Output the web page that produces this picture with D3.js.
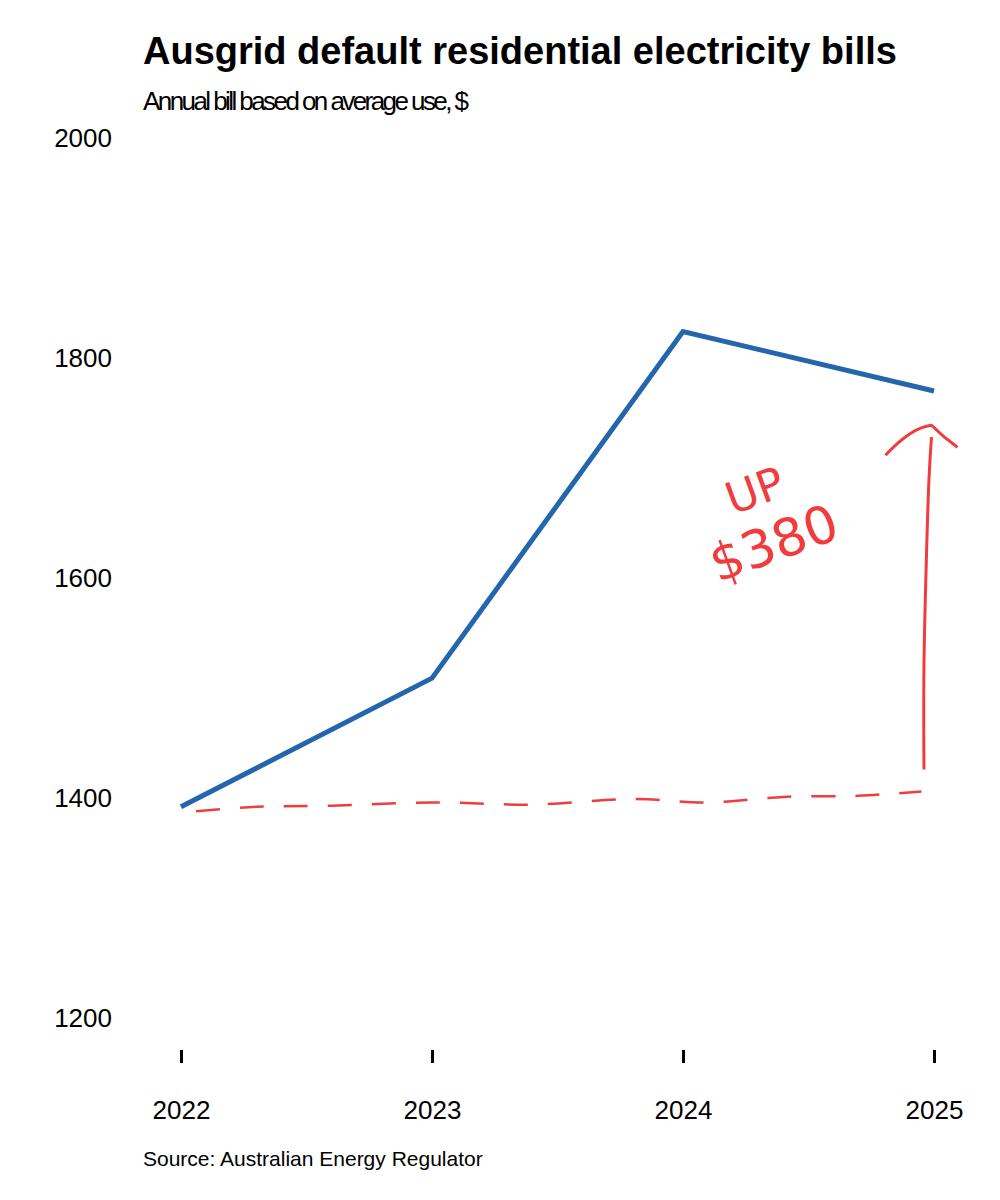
<!DOCTYPE html>
<html><head><meta charset="utf-8">
<script src="https://cdn.jsdelivr.net/npm/d3@7"></script>
<style>body{margin:0;background:#fff}</style>
</head><body>
<svg id="c" width="1000" height="1200"></svg>
<script>
const years = [2022, 2023, 2024, 2025];
const bills = [1392, 1509, 1824, 1770];
const yTicks = [1200, 1400, 1600, 1800, 2000];
// hand-drawn annotation points (data space)
const dashX = [2022.06, 2022.3, 2022.6, 2023.0, 2023.4, 2023.8, 2024.1, 2024.4, 2024.7, 2024.95];
const dashY = [1388, 1392, 1393, 1396, 1394, 1399, 1396, 1401, 1402, 1406];
const arrowX = [2024.96, 2024.96, 2024.97, 2024.98, 2024.99];
const arrowY = [1426, 1520, 1620, 1690, 1728];

const svg = d3.select("#c");
const font = "Liberation Sans, Arial, sans-serif";
const x = d3.scaleLinear().domain([2022, 2025]).range([181, 934]);
const y = d3.scaleLinear().domain([1200, 2000]).range([1018, 138]);

svg.append("text").attr("x",143).attr("y",64).attr("font-family",font).attr("font-weight","bold").attr("font-size",38).text("Ausgrid default residential electricity bills");
svg.append("text").attr("x",143).attr("y",110).attr("font-family",font).attr("font-size",26).attr("textLength",326).text("Annual bill based on average use, $");

const ya = svg.append("g").attr("transform","translate(112,0)")
  .call(d3.axisLeft(y).tickValues(yTicks).tickSize(0).tickPadding(0).tickFormat(d3.format("d")));
ya.select(".domain").remove();
ya.selectAll("text").attr("font-family",font).attr("font-size",26).attr("fill","#000");

const xa = svg.append("g").attr("transform","translate(0,1050)")
  .call(d3.axisBottom(x).tickValues(years).tickSize(13).tickPadding(38).tickFormat(d3.format("d")));
xa.select(".domain").remove();
xa.selectAll("line").attr("stroke","#000").attr("stroke-width",3);
xa.selectAll("text").attr("font-family",font).attr("font-size",26).attr("fill","#000");

svg.append("path").datum(years.map((d,i)=>[d,bills[i]]))
  .attr("d", d3.line().x(d=>x(d[0])).y(d=>y(d[1])))
  .attr("fill","none").attr("stroke","#2466ad").attr("stroke-width",5);

const red = "#f03c3c";
svg.append("path").datum(dashX.map((d,i)=>[d,dashY[i]]))
  .attr("d", d3.line().curve(d3.curveCatmullRom).x(d=>x(d[0])).y(d=>y(d[1])))
  .attr("fill","none").attr("stroke",red).attr("stroke-width",2.5).attr("stroke-dasharray","24,20");
svg.append("path").datum(arrowX.map((d,i)=>[d,arrowY[i]]))
  .attr("d", d3.line().curve(d3.curveCatmullRom).x(d=>x(d[0])).y(d=>y(d[1])))
  .attr("fill","none").attr("stroke",red).attr("stroke-width",3);
const ax = x(arrowX[4]), ay = y(arrowY[4]) - 10;
svg.append("path").attr("d",`M${ax-46},${ay+28} Q${ax-20},${ay} ${ax},${ay-2} Q${ax+12},${ay+10} ${ax+26},${ay+20}`)
  .attr("fill","none").attr("stroke",red).attr("stroke-width",3);
svg.append("text").attr("transform","translate(760,505) rotate(-20)").attr("font-family","DejaVu Sans, sans-serif")
  .attr("font-size",44).attr("fill",red).attr("text-anchor","middle").text("UP");
svg.append("text").attr("transform","translate(780,560) rotate(-20)").attr("font-family","DejaVu Sans, sans-serif")
  .attr("font-size",52).attr("fill",red).attr("text-anchor","middle").text("$380");

svg.append("text").attr("x",143).attr("y",1166).attr("font-family",font).attr("font-size",21).text("Source: Australian Energy Regulator");
</script>
</body></html>
